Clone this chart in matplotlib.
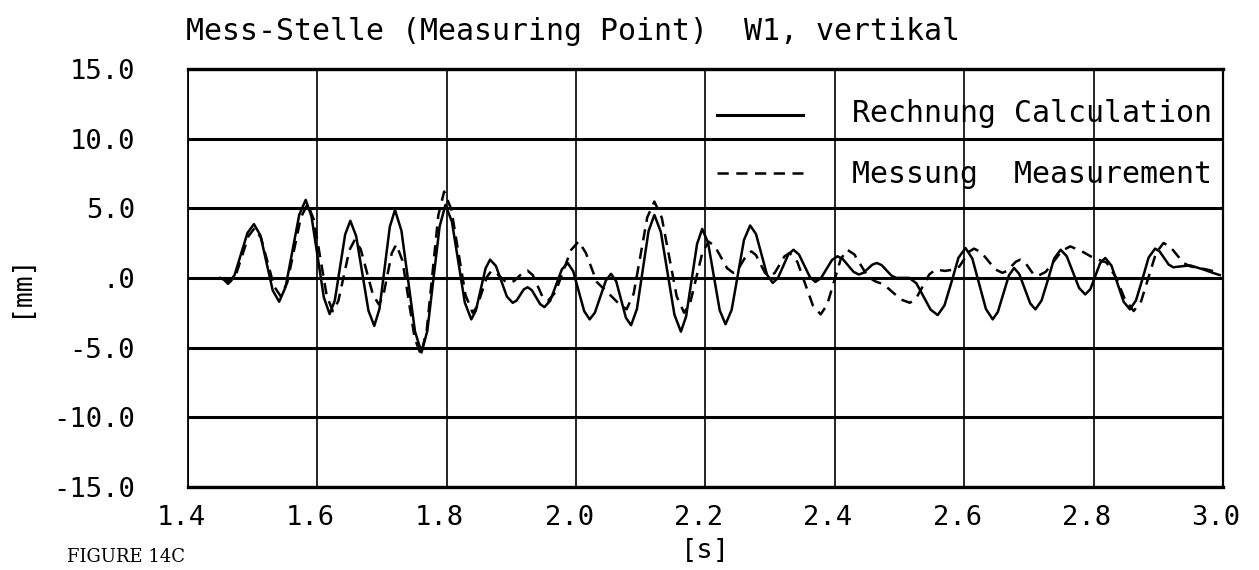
import matplotlib
matplotlib.use("Agg")
import matplotlib.pyplot as plt
from matplotlib.transforms import ScaledTranslation

# Rechnung (calculation)
t_calc = [1.450, 1.456, 1.462, 1.472, 1.482, 1.492, 1.502, 1.512, 1.5215, 1.531,
          1.541, 1.551, 1.5615, 1.572, 1.582, 1.591, 1.6005, 1.610, 1.619, 1.627,
          1.635, 1.643, 1.651, 1.660, 1.6695, 1.679, 1.688, 1.696, 1.704, 1.712,
          1.720, 1.730, 1.7405, 1.751, 1.761, 1.770, 1.7795, 1.789, 1.798, 1.808,
          1.818, 1.828, 1.838, 1.845, 1.8525, 1.860, 1.867, 1.876, 1.8845, 1.893,
          1.902, 1.908, 1.9135, 1.919, 1.925, 1.9315, 1.938, 1.9445, 1.951, 1.960,
          1.969, 1.978, 1.987, 1.9955, 2.004, 2.0125, 2.021, 2.029, 2.0375, 2.046,
          2.054, 2.062, 2.0695, 2.077, 2.085, 2.094, 2.103, 2.112, 2.121, 2.131,
          2.1415, 2.152, 2.162, 2.170, 2.1785, 2.187, 2.195, 2.204, 2.213, 2.222,
          2.231, 2.2405, 2.250, 2.2595, 2.269, 2.278, 2.2865, 2.295, 2.304, 2.312,
          2.320, 2.328, 2.336, 2.3445, 2.353, 2.3615, 2.370, 2.3785, 2.387, 2.3955,
          2.404, 2.412, 2.4205, 2.429, 2.437, 2.444, 2.451, 2.458, 2.465, 2.4725,
          2.480, 2.4875, 2.495, 2.515, 2.526, 2.537, 2.548, 2.559, 2.5695, 2.5805,
          2.591, 2.602, 2.6125, 2.623, 2.6335, 2.644, 2.652, 2.6605, 2.669, 2.677,
          2.685, 2.6935, 2.702, 2.710, 2.7195, 2.7295, 2.739, 2.749, 2.7585, 2.768,
          2.7775, 2.787, 2.795, 2.8025, 2.810, 2.818, 2.8275, 2.837, 2.8465, 2.856,
          2.8655, 2.8755, 2.885, 2.895, 2.902, 2.909, 2.916, 2.923, 2.936, 2.949,
          2.970, 2.985, 2.995]
y_calc = [0.0, -0.15, -0.43, 0.20, 1.72, 3.23, 3.86, 3.05, 1.07, -0.90,
          -1.71, -0.64, 1.95, 4.53, 5.60, 4.40, 1.50, -1.40, -2.60, -1.62,
          0.75, 3.12, 4.10, 3.00, 0.32, -2.35, -3.45, -2.23, 0.72, 3.66,
          4.88, 3.38, -0.24, -3.86, -5.36, -3.81, -0.06, 3.69, 5.24, 4.04,
          1.13, -1.78, -2.98, -2.35, -0.83, 0.68, 1.31, 0.86, -0.24, -1.34,
          -1.79, -1.63, -1.23, -0.83, -0.67, -0.88, -1.39, -1.89, -2.10, -1.64,
          -0.52, 0.61, 1.07, 0.48, -0.96, -2.39, -2.98, -2.50, -1.35, -0.19,
          0.29, -0.25, -1.56, -2.86, -3.40, -2.24, 0.56, 3.36, 4.52, 3.30,
          0.33, -2.64, -3.86, -2.78, -0.17, 2.44, 3.52, 2.52, 0.10, -2.33,
          -3.33, -2.29, 0.22, 2.72, 3.76, 3.16, 1.70, 0.24, -0.36, -0.01,
          0.83, 1.67, 2.02, 1.68, 0.87, 0.05, -0.29, -0.02, 0.63, 1.28,
          1.55, 1.36, 0.90, 0.43, 0.24, 0.36, 0.66, 0.95, 1.07, 0.91,
          0.54, 0.16, 0.0, 0.0, -0.39, -1.34, -2.28, -2.67, -1.97, -0.27,
          1.44, 2.14, 1.39, -0.42, -2.23, -2.98, -2.44, -1.14, 0.17, 0.71,
          0.28, -0.78, -1.83, -2.26, -1.63, -0.12, 1.39, 2.02, 1.55, 0.42,
          -0.72, -1.19, -0.81, 0.12, 1.05, 1.43, 0.89, -0.42, -1.72, -2.26,
          -1.62, -0.08, 1.46, 2.10, 1.90, 1.43, 0.96, 0.76, 0.83, 0.90,
          0.60, 0.35, 0.20]

t_meas = [1.455, 1.465, 1.4745, 1.484, 1.4935, 1.503, 1.513, 1.523, 1.533, 1.543,
          1.5535, 1.564, 1.5745, 1.585, 1.5945, 1.6045, 1.6145, 1.624, 1.6325, 1.641,
          1.6495, 1.658, 1.667, 1.6765, 1.686, 1.695, 1.702, 1.7085, 1.715, 1.722,
          1.7315, 1.741, 1.7505, 1.760, 1.769, 1.778, 1.787, 1.796, 1.807, 1.818,
          1.829, 1.840, 1.847, 1.8545, 1.862, 1.869, 1.876, 1.883, 1.890, 1.897,
          1.904, 1.911, 1.918, 1.925, 1.933, 1.9405, 1.948, 1.956, 1.968, 1.980,
          1.992, 2.004, 2.015, 2.032, 2.052, 2.065, 2.078, 2.089, 2.0995, 2.110,
          2.121, 2.1325, 2.144, 2.1555, 2.167, 2.1765, 2.186, 2.1955, 2.205, 2.2145,
          2.224, 2.2335, 2.243, 2.250, 2.257, 2.264, 2.271, 2.278, 2.285, 2.292,
          2.299, 2.307, 2.3145, 2.322, 2.330, 2.342, 2.354, 2.366, 2.378, 2.388,
          2.3985, 2.409, 2.419, 2.430, 2.4405, 2.451, 2.462, 2.4755, 2.489, 2.5025,
          2.516, 2.526, 2.536, 2.546, 2.556, 2.570, 2.585, 2.5925, 2.600, 2.6075,
          2.615, 2.626, 2.637, 2.648, 2.659, 2.666, 2.673, 2.680, 2.687, 2.6935,
          2.700, 2.7065, 2.713, 2.726, 2.7385, 2.751, 2.764, 2.782, 2.800, 2.820,
          2.835, 2.848, 2.862, 2.8735, 2.885, 2.8965, 2.908, 2.918, 2.9285, 2.939,
          2.949, 2.975, 2.995]
y_meas = [0.0, -0.30, 0.27, 1.64, 3.00, 3.57, 2.86, 1.14, -0.59, -1.30,
          -0.34, 2.00, 4.34, 5.30, 4.18, 1.45, -1.28, -2.40, -1.65, 0.17,
          1.99, 2.74, 2.06, 0.42, -1.22, -1.90, -1.27, 0.25, 1.77, 2.40,
          1.25, -1.55, -4.35, -5.50, -3.79, 0.35, 4.49, 6.20, 4.93, 1.85,
          -1.23, -2.50, -2.06, -1.00, 0.06, 0.50, 0.37, 0.07, -0.23, -0.36,
          -0.23, 0.08, 0.39, 0.52, 0.20, -0.58, -1.35, -1.67, -1.04, 0.48,
          1.99, 2.62, 1.80, -0.30, -1.20, -1.80, -2.26, -1.13, 1.61, 4.35,
          5.48, 4.31, 1.49, -1.33, -2.50, -1.76, 0.05, 1.86, 2.60, 2.27,
          1.48, 0.69, 0.36, 0.58, 1.13, 1.68, 1.90, 1.64, 1.00, 0.36,
          0.10, 0.35, 0.95, 1.54, 1.79, 1.15, -0.42, -1.98, -2.62, -1.94,
          -0.30, 1.34, 2.02, 1.69, 0.89, 0.09, -0.24, -0.47, -1.02, -1.56,
          -1.79, -1.44, -0.60, 0.25, 0.60, 0.50, 0.60, 0.82, 1.35, 1.88,
          2.10, 1.85, 1.23, 0.61, 0.36, 0.50, 0.84, 1.17, 1.31, 1.14,
          0.72, 0.29, 0.12, 0.43, 1.19, 1.95, 2.26, 1.90, 1.43, 1.10,
          0.00, -1.50, -2.38, -1.67, 0.06, 1.79, 2.50, 2.26, 1.67, 1.07,
          0.83, 0.60, 0.36]

x_ticks = [1.4, 1.6, 1.8, 2.0, 2.2, 2.4, 2.6, 2.8, 3.0]
x_labels = ["1.4", "1.6", "1.8", "2.0", "2.2", "2.4", "2.6", "2.8", "3.0"]
y_ticks = [-15, -10, -5, 0, 5, 10, 15]
y_labels = ["-15.0", "-10.0", "-5.0", ".0", "5.0", "10.0", "15.0"]

title = "Mess-Stelle (Measuring Point)  W1, vertikal"
legend_calc = "Rechnung Calculation"
legend_meas = "Messung  Measurement"

mono = "DejaVu Sans Mono"
dash = (0, (4.5, 3))

fig = plt.figure(figsize=(12.59, 5.70), dpi=100)
ax = fig.add_axes([0.1493, 0.146, 0.8221, 0.733])

ax.plot(t_calc, y_calc, color="black", lw=1.8, zorder=3, solid_joinstyle="round")
ax.plot(t_meas, y_meas, color="black", lw=1.8, linestyle=dash, zorder=3)

ax.set_xlim(1.4, 3.0)
ax.set_ylim(-15, 15)
ax.set_xticks(x_ticks)
ax.set_xticklabels(x_labels)
ax.set_yticks(y_ticks)
ax.set_yticklabels(y_labels)
ax.tick_params(axis="both", length=0, labelsize=19.5)
ax.tick_params(axis="y", pad=38)
ax.tick_params(axis="x", pad=13)
for lab in ax.get_xticklabels() + ax.get_yticklabels():
    lab.set_fontfamily(mono)
for lab in ax.get_xticklabels():
    lab.set_transform(lab.get_transform() + ScaledTranslation(-0.07, 0, fig.dpi_scale_trans))

ax.grid(axis="y", color="black", lw=2.2, zorder=1)
ax.grid(axis="x", color="black", lw=1.2, zorder=1)
ax.spines["top"].set_linewidth(2.4)
ax.spines["bottom"].set_linewidth(2.4)
ax.spines["left"].set_linewidth(1.3)
ax.spines["right"].set_linewidth(1.6)

# legend drawn inside the grid cells like the plotter output
ax.plot([2.218, 2.35], [11.7, 11.7], color="black", lw=2.2)
ax.plot([2.218, 2.35], [7.5, 7.5], color="black", lw=1.8, linestyle=dash)
ax.text(2.426, 11.2, legend_calc, family=mono, fontsize=21.5, va="baseline", ha="left")
ax.text(2.426, 6.8, legend_meas, family=mono, fontsize=21.5, va="baseline", ha="left")

fig.text(186 / 1259, 1 - 31 / 570, title, family=mono, fontsize=21.5, va="center", ha="left")
fig.text(705 / 1259, 1 - 551 / 570, "[s]", family=mono, fontsize=19.5, va="center", ha="center")
fig.text(20 / 1259, 1 - 285 / 570, "[mm]", family=mono, fontsize=19, va="center", ha="center",
         rotation=90)
fig.text(67 / 1259, 1 - 566 / 570, "FIGURE 14C", family="DejaVu Serif", fontsize=13,
         va="bottom", ha="left")

fig.savefig("out.png", dpi=100)
